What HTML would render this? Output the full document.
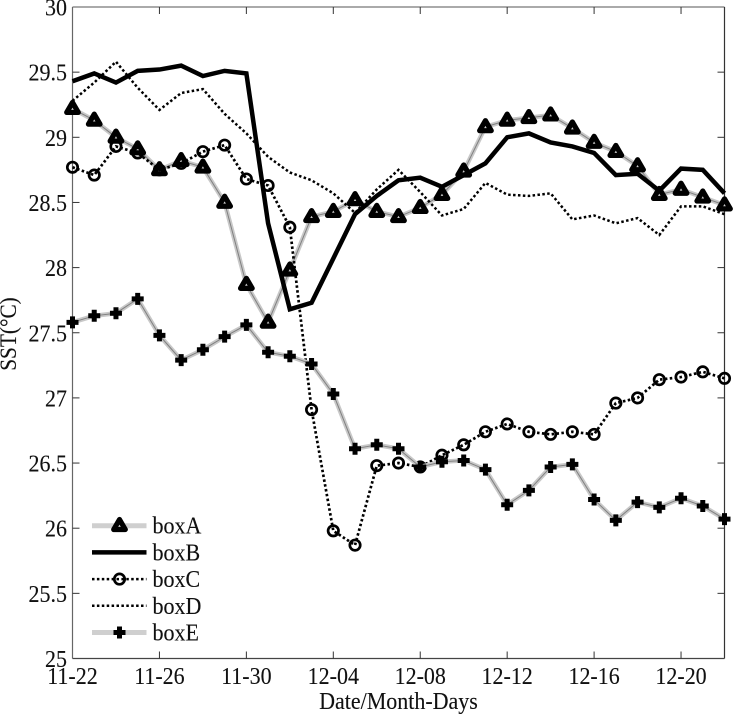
<!DOCTYPE html>
<html>
<head>
<meta charset="utf-8">
<title>SST chart</title>
<style>
html,body{margin:0;padding:0;background:#fff;width:733px;height:714px;overflow:hidden}
svg{display:block}
text{font-family:"Liberation Serif",serif;fill:#111;stroke:#111;stroke-width:0.1}
</style>
</head>
<body>
<svg id="chart" width="733" height="714" viewBox="0 0 733 714" xmlns="http://www.w3.org/2000/svg">
  <g id="grid-layer">
    <line x1="72.5" y1="7" x2="724.5" y2="7" stroke="#777" stroke-width="1.2"/>
    <line x1="72.5" y1="7" x2="72.5" y2="658.5" stroke="#666" stroke-width="1.2"/>
    <line x1="724.5" y1="7" x2="724.5" y2="658.5" stroke="#333" stroke-width="1.2"/>
    <line x1="72.5" y1="658.5" x2="724.5" y2="658.5" stroke="#444" stroke-width="1.2"/>
  </g>
  <g id="ticks-layer"></g>
  <g id="series-layer"></g>
  <g id="legend-layer"></g>
  <text transform="translate(398.5 709) scale(1 1.08)" font-size="22" text-anchor="middle">Date/Month-Days</text>
  <text transform="translate(16 334) rotate(-90) scale(1 1.1)" font-size="21.3" text-anchor="middle">SST(°C)</text>
</svg>
<script>
const xTickLabels = ['11-22','11-26','11-30','12-04','12-08','12-12','12-16','12-20'];
const xTickDays = [0,4,8,12,16,20,24,28];
const yTicks = [25,25.5,26,26.5,27,27.5,28,28.5,29,29.5,30];
const boxA = [29.22,29.13,29.0,28.91,28.75,28.82,28.77,28.5,27.87,27.58,27.98,28.39,28.43,28.52,28.43,28.39,28.46,28.56,28.74,29.08,29.13,29.15,29.17,29.07,28.96,28.89,28.78,28.56,28.6,28.54,28.48];
const boxB = [29.43,29.49,29.42,29.51,29.52,29.55,29.47,29.51,29.49,28.34,27.68,27.73,28.07,28.41,28.55,28.67,28.69,28.62,28.71,28.8,29.0,29.03,28.96,28.93,28.88,28.71,28.72,28.59,28.76,28.75,28.57];
const boxC = [28.77,28.71,28.93,28.88,28.75,28.8,28.89,28.94,28.68,28.63,28.31,26.91,25.98,25.87,26.48,26.5,26.47,26.56,26.64,26.74,26.8,26.74,26.72,26.74,26.72,26.96,27.0,27.14,27.16,27.2,27.15];
const boxD = [29.28,29.42,29.58,29.38,29.21,29.34,29.37,29.18,29.03,28.85,28.73,28.67,28.57,28.42,28.6,28.75,28.58,28.4,28.45,28.65,28.56,28.55,28.57,28.37,28.4,28.34,28.38,28.25,28.47,28.47,28.41];
const boxE = [27.58,27.63,27.65,27.76,27.48,27.29,27.37,27.47,27.56,27.35,27.32,27.26,27.03,26.61,26.64,26.61,26.47,26.51,26.52,26.45,26.18,26.29,26.47,26.49,26.22,26.06,26.2,26.16,26.23,26.17,26.07];
const legendLabels = ['boxA','boxB','boxC','boxD','boxE'];

const NS = 'http://www.w3.org/2000/svg';
const xScale = d => 72.5 + d * (652 / 30);
const yScale = v => 658.5 - (v - 25) * (651.5 / 5);

function mk(tag, parent, attrs) {
  const el = document.createElementNS(NS, tag);
  for (const k in attrs) el.setAttribute(k, attrs[k]);
  parent.appendChild(el);
  return el;
}

function marker(parent, kind, x, y) {
  let el;
  if (kind === 'triangle') {
    el = mk('path', parent, {d:`M${x} ${y-6.2}L${x+5.8} ${y+3.8}L${x-5.8} ${y+3.8}Z`, fill:'#ccc', stroke:'#000', 'stroke-width':5.2, 'stroke-linejoin':'round'});
  } else if (kind === 'circle') {
    el = mk('circle', parent, {cx:x, cy:y, r:5.2, fill:'none', stroke:'#000', 'stroke-width':2.7});
  } else {
    el = mk('path', parent, {d:`M${x-6} ${y}H${x+6}M${x} ${y-6}V${y+6}`, fill:'none', stroke:'#000', 'stroke-width':5});
  }
  return el;
}

const ticksLayer = document.getElementById('ticks-layer');
xTickDays.forEach((d, i) => {
  const x = xScale(d);
  if (i > 0) {
    const t1 = mk('line', ticksLayer, {x1:x, y1:7, x2:x, y2:14, stroke:'#333', 'stroke-width':1});
    
    
    const t2 = mk('line', ticksLayer, {x1:x, y1:658.5, x2:x, y2:651.5, stroke:'#333', 'stroke-width':1});
    
    
  }
  const lab = mk('text', ticksLayer, {transform:`translate(${x} 684) scale(1 1.08)`, 'font-size':22, 'text-anchor':'middle'});
  lab.textContent = xTickLabels[i];
  
  
});
yTicks.forEach(v => {
  const y = yScale(v);
  if (v > 25 && v < 30) {
    const t1 = mk('line', ticksLayer, {x1:72.5, y1:y, x2:79.5, y2:y, stroke:'#333', 'stroke-width':1});
    
    
    const t2 = mk('line', ticksLayer, {x1:724.5, y1:y, x2:717.5, y2:y, stroke:'#333', 'stroke-width':1});
    
    
  }
  const lab = mk('text', ticksLayer, {transform:`translate(67 ${y + 8.5}) scale(1 1.08)`, 'font-size':22, 'text-anchor':'end'});
  lab.textContent = String(v);
  
  
});

function pts(vals) {
  return vals.map((v, i) => xScale(i).toFixed(2) + ',' + yScale(v).toFixed(2)).join(' ');
}

const seriesLayer = document.getElementById('series-layer');

function stripedLine(parent, p) {
  mk('polyline', parent, {points:p, fill:'none', stroke:'#c8c8c8', 'stroke-width':4.5, 'stroke-linejoin':'round'});
  mk('polyline', parent, {points:p, fill:'none', stroke:'#808080', 'stroke-width':1, 'stroke-linejoin':'round'});
}
function dottedLine(parent, p, w) {
  mk('polyline', parent, {points:p, fill:'none', stroke:'#000', 'stroke-width':w, 'stroke-dasharray':'2.5 2.4'});
}

const gA = mk('g', seriesLayer, {});


stripedLine(gA, pts(boxA));
boxA.forEach((v, i) => marker(gA, 'triangle', xScale(i), yScale(v)));

const gB = mk('g', seriesLayer, {});


mk('polyline', gB, {points:pts(boxB), fill:'none', stroke:'#000', 'stroke-width':4.5, 'stroke-linejoin':'miter'});

const gC = mk('g', seriesLayer, {});


dottedLine(gC, pts(boxC), 2.7);
boxC.forEach((v, i) => marker(gC, 'circle', xScale(i), yScale(v)));

const gD = mk('g', seriesLayer, {});


dottedLine(gD, pts(boxD), 2.5);

const gE = mk('g', seriesLayer, {});


stripedLine(gE, pts(boxE));
boxE.forEach((v, i) => marker(gE, 'plus', xScale(i), yScale(v)));

const legendLayer = document.getElementById('legend-layer');
legendLabels.forEach((name, i) => {
  const y = 525.7 + i * 26.7;
  const g = mk('g', legendLayer, {});
  
  
  const p = `92,${y} 146.5,${y}`;
  if (i === 0 || i === 4) {
    mk('polyline', g, {points:p, fill:'none', stroke:'#cfcfcf', 'stroke-width':5});
  } else if (i === 1) {
    mk('polyline', g, {points:p, fill:'none', stroke:'#000', 'stroke-width':4.5});
  } else {
    dottedLine(g, p, 2.5);
  }
  if (i === 0) marker(g, 'triangle', 119.5, y);
  if (i === 2) marker(g, 'circle', 119.5, y);
  if (i === 4) marker(g, 'plus', 119.5, y);
  const lab = mk('text', g, {transform:`translate(152.5 ${y + 8}) scale(1 1.08)`, 'font-size':22});
  lab.textContent = name;
  
  
});
</script>
</body>
</html>
